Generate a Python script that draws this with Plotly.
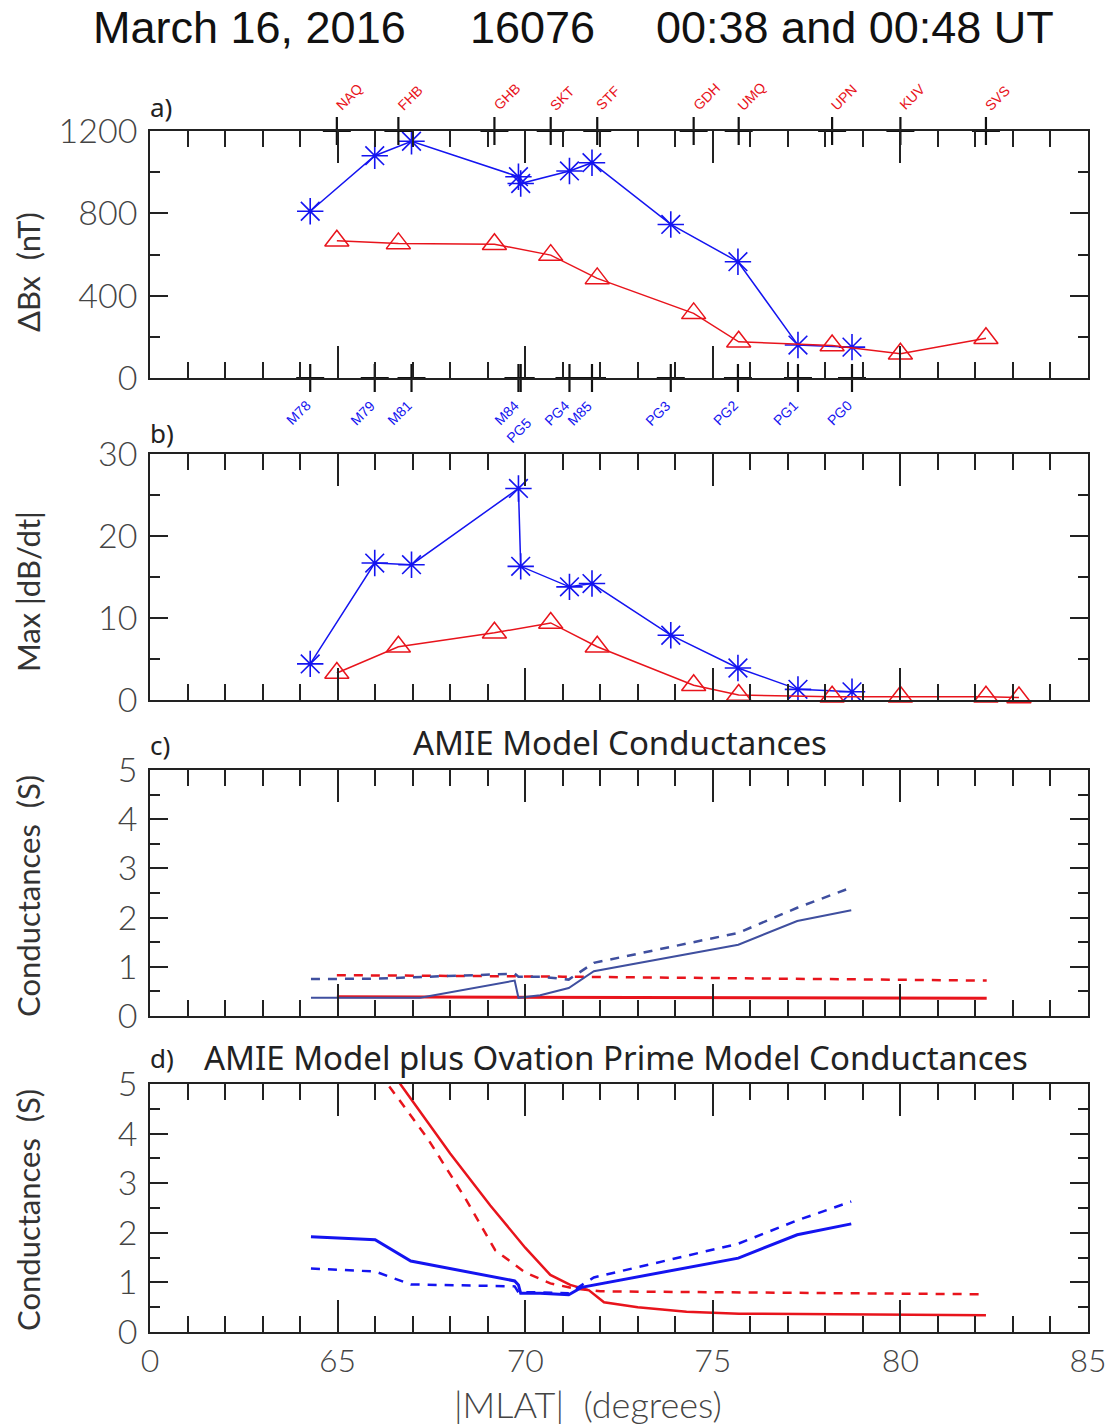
import plotly.graph_objects as go

# ---------------- data ----------------
# Blue stations (MAGSTAR / PG chain)
blue_names = ["M78", "M79", "M81", "M84", "PG5", "PG4", "M85", "PG3", "PG2", "PG1", "PG0"]
blue_mlat = [64.27, 65.99, 66.97, 69.82, 69.88, 71.18, 71.78, 73.88, 75.67, 77.27, 78.71]
blue_dbx = [810, 1080, 1150, 978, 945, 1006, 1046, 746, 565, 160, 150]
blue_dbdt = [4.4, 16.7, 16.5, 25.8, 16.3, 13.8, 14.2, 7.9, 3.9, 1.3, 1.0]

# Red stations (Greenland chain etc.)
red_names = ["NAQ", "FHB", "GHB", "SKT", "STF", "GDH", "UMQ", "UPN", "KUV", "SVS"]
red_mlat = [64.98, 66.62, 69.18, 70.68, 71.92, 74.49, 75.69, 78.18, 80.0, 82.28]
red_dbx = [667, 654, 650, 597, 484, 314, 176, 158, 118, 193]
red_dbdt_mlat = [64.98, 66.62, 69.18, 70.68, 71.92, 74.49, 75.69, 78.18, 80.0, 82.28, 83.16]
red_dbdt = [3.3, 6.5, 8.2, 9.4, 6.5, 1.8, 0.6, 0.4, 0.4, 0.4, 0.3]

# Panel c: AMIE model conductances
c_blue_solid_x = [64.29, 65.5, 67.2, 69.72, 69.82, 70.4, 71.16, 71.83, 75.68, 77.25, 78.69]
c_blue_solid_y = [0.37, 0.37, 0.37, 0.72, 0.37, 0.42, 0.57, 0.91, 1.45, 1.93, 2.15]
c_blue_dash_x = [64.29, 66.0, 69.72, 69.82, 70.4, 71.16, 71.83, 75.68, 77.25, 78.69]
c_blue_dash_y = [0.75, 0.76, 0.86, 0.80, 0.80, 0.74, 1.08, 1.69, 2.20, 2.61]
c_red_solid_x = [64.98, 72.0, 82.3]
c_red_solid_y = [0.39, 0.38, 0.36]
c_red_dash_x = [64.98, 71.0, 82.3]
c_red_dash_y = [0.83, 0.80, 0.72]

# Panel d: AMIE plus Ovation Prime conductances
d_red_solid_x = [64.98, 66.67, 68.0, 69.07, 70.0, 70.67, 71.2, 71.7, 72.1, 73.0, 74.3, 75.7, 82.28]
d_red_solid_y = [6.9, 5.0, 3.6, 2.55, 1.7, 1.15, 0.95, 0.84, 0.60, 0.50, 0.41, 0.37, 0.34]
d_red_dash_x = [64.98, 66.33, 67.4, 68.4, 69.2, 70.0, 70.67, 71.3, 72.0, 82.28]
d_red_dash_y = [6.3, 5.0, 3.9, 2.7, 1.65, 1.2, 0.98, 0.88, 0.82, 0.76]
d_blue_solid_x = [64.29, 66.0, 66.95, 69.72, 69.82, 69.88, 70.4, 71.16, 71.5, 75.68, 77.25, 78.69]
d_blue_solid_y = [1.92, 1.86, 1.43, 1.03, 0.95, 0.78, 0.78, 0.75, 0.90, 1.49, 1.96, 2.18]
d_blue_dash_x = [64.29, 66.0, 66.95, 69.72, 69.82, 70.4, 71.16, 71.83, 75.68, 77.25, 78.69]
d_blue_dash_y = [1.28, 1.22, 0.96, 0.92, 0.80, 0.80, 0.78, 1.10, 1.78, 2.25, 2.63]

x_tickvals = [60, 65, 70, 75, 80, 85]
x_ticktext = ["0", "65", "70", "75", "80", "85"]

BLUE = "#1414f0"
RED = "#e8141c"
SLATE = "#3f4f9f"
W, H = 1112, 1427

# ---------------- layout helpers ----------------
def py(px):
    return 1 - px / H

def pxx(px):
    return px / W

x_dom = [pxx(150), pxx(1088)]
panels = {  # top, bottom (pixels)
    1: (131, 378),
    2: (454, 700),
    3: (770, 1016),
    4: (1084, 1332),
}

TICKFONT = dict(family="Lato, DejaVu Sans", size=34, color="#444", weight=300)
XTICKFONT = dict(family="Lato, DejaVu Sans", size=32, color="#444", weight=300)
LABFONT = dict(family="Lato, DejaVu Sans", size=31, color="#333", weight=400)

fig = go.Figure()

def xa(i):
    d = dict(
        domain=x_dom, range=[60, 85], anchor="y%d" % i if i > 1 else "y",
        showline=True, linecolor="#222", linewidth=1.5, mirror="allticks",
        ticks="inside", ticklen=32, tickwidth=1.5, tickcolor="#222",
        tickvals=[65, 70, 75, 80], showgrid=False, zeroline=False, automargin=False,
        minor=dict(ticks="inside", ticklen=16, tickwidth=1.5, tickcolor="#222",
                   dtick=1, tick0=60, showgrid=False),
        showticklabels=False,
    )
    if i == 4:
        d.update(tickvals=x_tickvals, ticktext=x_ticktext, showticklabels=True,
                 tickfont=XTICKFONT)
    return d

def ya(i, rng, vals, mdt):
    top, bot = panels[i]
    return dict(
        domain=[py(bot), py(top)], range=rng, anchor="x%d" % i if i > 1 else "x",
        showline=True, linecolor="#222", linewidth=1.5, mirror="allticks",
        ticks="inside", ticklen=18, tickwidth=1.5, tickcolor="#222", automargin=False,
        tickvals=vals, showgrid=False, zeroline=False, tickfont=TICKFONT,
        ticklabelstandoff=4,
        minor=dict(ticks="inside", ticklen=10, tickwidth=1.5, tickcolor="#222",
                   dtick=mdt, tick0=0, showgrid=False),
    )

layout = dict(
    width=W, height=H, margin=dict(l=0, r=0, t=0, b=0, autoexpand=False),
    paper_bgcolor="white", plot_bgcolor="white", showlegend=False,
    xaxis=xa(1), xaxis2=xa(2), xaxis3=xa(3), xaxis4=xa(4),
    yaxis=ya(1, [0, 1200], [0, 400, 800, 1200], 200),
    yaxis2=ya(2, [0, 30], [0, 10, 20, 30], 5),
    yaxis3=ya(3, [0, 5], [0, 1, 2, 3, 4, 5], 0.5),
    yaxis4=ya(4, [0, 5], [0, 1, 2, 3, 4, 5], 0.5),
)
fig.update_layout(**layout)

# ---------------- panel a ----------------
fig.add_trace(go.Scatter(x=blue_mlat, y=blue_dbx, mode="lines+markers", xaxis="x", yaxis="y",
                         line=dict(color=BLUE, width=1.5),
                         marker=dict(symbol="asterisk-open", size=22, line=dict(color=BLUE, width=1.6))))
fig.add_trace(go.Scatter(x=red_mlat, y=red_dbx, mode="lines+markers", xaxis="x", yaxis="y",
                         line=dict(color=RED, width=1.5),
                         marker=dict(symbol="triangle-up-open", size=21, color=RED, line=dict(color=RED, width=1.5))))
# station ticks
fig.add_trace(go.Scatter(x=red_mlat, y=[1200] * len(red_mlat), mode="markers", xaxis="x", yaxis="y",
                         cliponaxis=False,
                         marker=dict(symbol="cross-thin", size=20, line=dict(color="#111", width=2.2))))
fig.add_trace(go.Scatter(x=blue_mlat, y=[0] * len(blue_mlat), mode="markers", xaxis="x", yaxis="y",
                         cliponaxis=False,
                         marker=dict(symbol="cross-thin", size=20, line=dict(color="#111", width=2.2))))

annotations = []
for n, x in zip(red_names, red_mlat):
    annotations.append(dict(x=x, y=1200, xref="x", yref="y", text=n, showarrow=False,
                            textangle=-45, xanchor="left", yanchor="bottom",
                            xshift=-7, yshift=15,
                            font=dict(family="Liberation Sans, Arial", size=14, color=RED)))
for n, x in zip(blue_names, blue_mlat):
    dx, dy = 6, -17
    if n == "PG5":
        dx, dy = 17, -34
    annotations.append(dict(x=x, y=0, xref="x", yref="y", text=n, showarrow=False,
                            textangle=-45, xanchor="right", yanchor="top",
                            xshift=dx, yshift=dy,
                            font=dict(family="Liberation Sans, Arial", size=14, color=BLUE)))

# ---------------- panel b ----------------
fig.add_trace(go.Scatter(x=blue_mlat, y=blue_dbdt, mode="lines+markers", xaxis="x2", yaxis="y2",
                         line=dict(color=BLUE, width=1.5),
                         marker=dict(symbol="asterisk-open", size=22, line=dict(color=BLUE, width=1.6))))
fig.add_trace(go.Scatter(x=red_dbdt_mlat, y=red_dbdt, mode="lines+markers", xaxis="x2", yaxis="y2",
                         cliponaxis=False,
                         line=dict(color=RED, width=1.5),
                         marker=dict(symbol="triangle-up-open", size=21, color=RED, line=dict(color=RED, width=1.5))))

# ---------------- panel c ----------------
DASH = "9px,8px"
fig.add_trace(go.Scatter(x=c_red_solid_x, y=c_red_solid_y, mode="lines", xaxis="x3", yaxis="y3",
                         line=dict(color=RED, width=3)))
fig.add_trace(go.Scatter(x=c_red_dash_x, y=c_red_dash_y, mode="lines", xaxis="x3", yaxis="y3",
                         line=dict(color=RED, width=2.5, dash=DASH)))
fig.add_trace(go.Scatter(x=c_blue_solid_x, y=c_blue_solid_y, mode="lines", xaxis="x3", yaxis="y3",
                         line=dict(color=SLATE, width=2)))
fig.add_trace(go.Scatter(x=c_blue_dash_x, y=c_blue_dash_y, mode="lines", xaxis="x3", yaxis="y3",
                         line=dict(color=SLATE, width=2.5, dash=DASH)))

# ---------------- panel d ----------------
fig.add_trace(go.Scatter(x=d_red_solid_x, y=d_red_solid_y, mode="lines", xaxis="x4", yaxis="y4",
                         line=dict(color=RED, width=2.5)))
fig.add_trace(go.Scatter(x=d_red_dash_x, y=d_red_dash_y, mode="lines", xaxis="x4", yaxis="y4",
                         line=dict(color=RED, width=2.5, dash=DASH)))
fig.add_trace(go.Scatter(x=d_blue_solid_x, y=d_blue_solid_y, mode="lines", xaxis="x4", yaxis="y4",
                         line=dict(color=BLUE, width=3)))
fig.add_trace(go.Scatter(x=d_blue_dash_x, y=d_blue_dash_y, mode="lines", xaxis="x4", yaxis="y4",
                         line=dict(color=BLUE, width=2.5, dash=DASH)))

# ---------------- text ----------------
def pann(x, y, text, font, **kw):
    d = dict(x=pxx(x), y=py(y), xref="paper", yref="paper", text=text, showarrow=False,
             xanchor="center", yanchor="middle", font=font)
    d.update(kw)
    return d

TF = dict(family="Liberation Sans, Arial", size=45, color="#111")
annotations += [
    pann(249, 28, "March 16, 2016", TF),
    pann(532, 28, "16076", TF),
    pann(855, 28, "00:38 and 00:48 UT", TF),
]
PL = dict(family="Noto Sans, Open Sans", size=26, color="#222")
for lab, ypix in [("a)", 107), ("b)", 433), ("c)", 745), ("d)", 1058)]:
    annotations.append(pann(148, ypix, lab, PL, xanchor="left"))
ST = dict(family="Noto Sans, Open Sans", size=33, color="#222")
annotations.append(pann(620, 742, "AMIE Model Conductances", ST))
annotations.append(pann(616, 1057, "AMIE Model plus Ovation Prime Model Conductances", ST))
for txt, ypix in [("ΔBx  (nT)", 272), ("Max |dB/dt|", 592), ("Conductances  (S)", 896),
                  ("Conductances  (S)", 1210)]:
    annotations.append(pann(28, ypix, txt, LABFONT, textangle=-90))
annotations.append(pann(588, 1404, "|MLAT|  (degrees)",
                        dict(family="Lato, DejaVu Sans", size=36, color="#444", weight=300)))

fig.update_layout(annotations=annotations)
fig.write_html("out.html")
